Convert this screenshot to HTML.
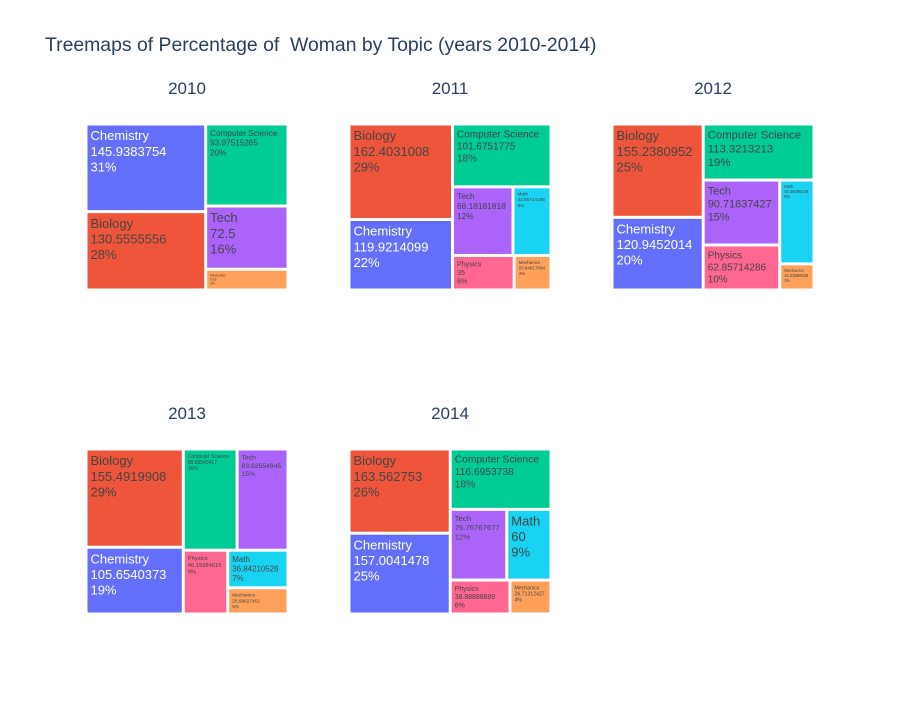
<!DOCTYPE html>
<html><head><meta charset="utf-8"><style>
body{margin:0;background:#fff;font-family:"Liberation Sans",sans-serif}
</style></head><body>
<svg id="chart" width="900" height="700" xmlns="http://www.w3.org/2000/svg">
<rect width="900" height="700" fill="#fff"/>
<text x="45" y="51" font-size="19.4" fill="#2a3f5f" style="white-space:pre" font-family="Liberation Sans, sans-serif">Treemaps of Percentage of &#160;Woman by Topic (years 2010-2014)</text>
<g id="plots"></g>
</svg>
<script>
const years = ["2010","2011","2012","2013","2014"];
const labels2010 = ["Chemistry","Biology","Computer Science","Tech","Mechanics"];
const values2010 = [145.9383754,130.5555556,93.97515265,72.5,23.8];
const pct2010 = ["31%","28%","20%","16%","3%"];
const labels2011 = ["Biology","Chemistry","Computer Science","Tech","Math","Physics","Mechanics"];
const values2011 = [162.4031008,119.9214099,101.6751775,68.18181818,42.85714286,35,20.94017094];
const pct2011 = ["29%","22%","18%","12%","8%","6%","4%"];
const labels2012 = ["Biology","Chemistry","Computer Science","Tech","Physics","Math","Mechanics"];
const values2012 = [155.2380952,120.9452014,113.3213213,90.71637427,62.85714286,52.38095238,16.33986928];
const pct2012 = ["25%","20%","19%","15%","10%","9%","3%"];
const labels2013 = ["Biology","Chemistry","Computer Science","Tech","Physics","Math","Mechanics"];
const values2013 = [155.4919908,105.6540373,88.58543417,83.82554945,46.15384615,36.84210526,25.69627451];
const pct2013 = ["29%","19%","16%","15%","9%","7%","5%"];
const labels2014 = ["Biology","Chemistry","Computer Science","Tech","Math","Physics","Mechanics"];
const values2014 = [163.562753,157.0041478,116.6953738,76.76767677,60,38.88888889,26.71312427];
const pct2014 = ["26%","25%","18%","12%","9%","6%","4%"];

const allLabels=[labels2010,labels2011,labels2012,labels2013,labels2014];
const allValues=[values2010,values2011,values2012,values2013,values2014];
const allPct=[pct2010,pct2011,pct2012,pct2013,pct2014];
const colors={"Chemistry":"#636efa","Biology":"#EF553B","Computer Science":"#00cc96","Tech":"#ab63fa","Mechanics":"#FFA15A","Math":"#19d3f3","Physics":"#FF6692"};
const domains=[[86,124,288,290],[349,124,551,290],[612,124,814,290],[86,449,288,614],[349,449,551,614]];
const NS="http://www.w3.org/2000/svg";
const plots=document.getElementById('plots');

function squarify(nodes,x0,y0,x1,y1){
  let value=nodes.reduce((a,n)=>a+n.value,0),i0=0,i1=0,n=nodes.length;
  while(i0<n){
    const dx=x1-x0,dy=y1-y0;
    let sumValue=nodes[i1++].value,minValue=sumValue,maxValue=sumValue;
    const alpha=Math.max(dy/dx,dx/dy)/value;
    let beta=sumValue*sumValue*alpha;
    let minRatio=Math.max(maxValue/beta,beta/minValue);
    for(;i1<n;++i1){
      const nv=nodes[i1].value;sumValue+=nv;
      if(nv<minValue)minValue=nv;if(nv>maxValue)maxValue=nv;
      beta=sumValue*sumValue*alpha;
      const nr=Math.max(maxValue/beta,beta/minValue);
      if(nr>minRatio){sumValue-=nv;break;}
      minRatio=nr;
    }
    const row=nodes.slice(i0,i1);
    if(dx<dy){
      const ny=y0+dy*sumValue/value;let x=x0;
      row.forEach(r=>{const w=dx*r.value/sumValue;r.x0=x;r.x1=x+w;r.y0=y0;r.y1=ny;x+=w;});
      y0=ny;
    }else{
      const nx=x0+dx*sumValue/value;let y=y0;
      row.forEach(r=>{const h=dy*r.value/sumValue;r.y0=y;r.y1=y+h;r.x0=x0;r.x1=nx;y+=h;});
      x0=nx;
    }
    value-=sumValue;i0=i1;
  }
}

years.forEach((yr,k)=>{
  const d=domains[k];
  const g=document.createElementNS(NS,'g');
  
  
  plots.appendChild(g);
  const t=document.createElementNS(NS,'text');
  
  
  t.setAttribute('x',(d[0]+d[2])/2);t.setAttribute('y',d[1]-30);
  t.setAttribute('text-anchor','middle');t.setAttribute('font-size','17');t.setAttribute('fill','#2a3f5f');
  t.textContent=yr;g.appendChild(t);
  const nodes=allLabels[k].map((l,i)=>({label:l,value:allValues[k][i],pct:allPct[k][i]}));
  squarify(nodes,d[0],d[1],d[2],d[3]);
  nodes.forEach(nd=>{
    const slug=nd.label.toLowerCase().replace(/ /g,'-');
    const r=document.createElementNS(NS,'rect');
    
    
    const x=nd.x0+1.5,y=nd.y0+1.5,w=Math.max(0,nd.x1-nd.x0-3),h=Math.max(0,nd.y1-nd.y0-3);
    r.setAttribute('x',x);r.setAttribute('y',y);r.setAttribute('width',w);r.setAttribute('height',h);
    r.setAttribute('fill',colors[nd.label]);
    g.appendChild(r);
    const lines=[nd.label,String(nd.value),nd.pct];
    const maxChars=Math.max(...lines.map(s=>s.length));
    let fs=Math.min(13,(w-6)/(maxChars*0.56),(h-6)/(3*1.2));
    fs=Math.max(fs,3);
    const tx=document.createElementNS(NS,'text');
    
    
    tx.setAttribute('font-size',fs.toFixed(2));
    tx.setAttribute('fill',nd.label==='Chemistry'?'#fff':'#444');
    lines.forEach((s,i)=>{
      const sp=document.createElementNS(NS,'tspan');
      sp.setAttribute('x',x+3);sp.setAttribute('y',y+3+fs*(0.9+1.2*i));
      sp.textContent=s;tx.appendChild(sp);
    });
    g.appendChild(tx);
  });
});
</script>
</body></html>
